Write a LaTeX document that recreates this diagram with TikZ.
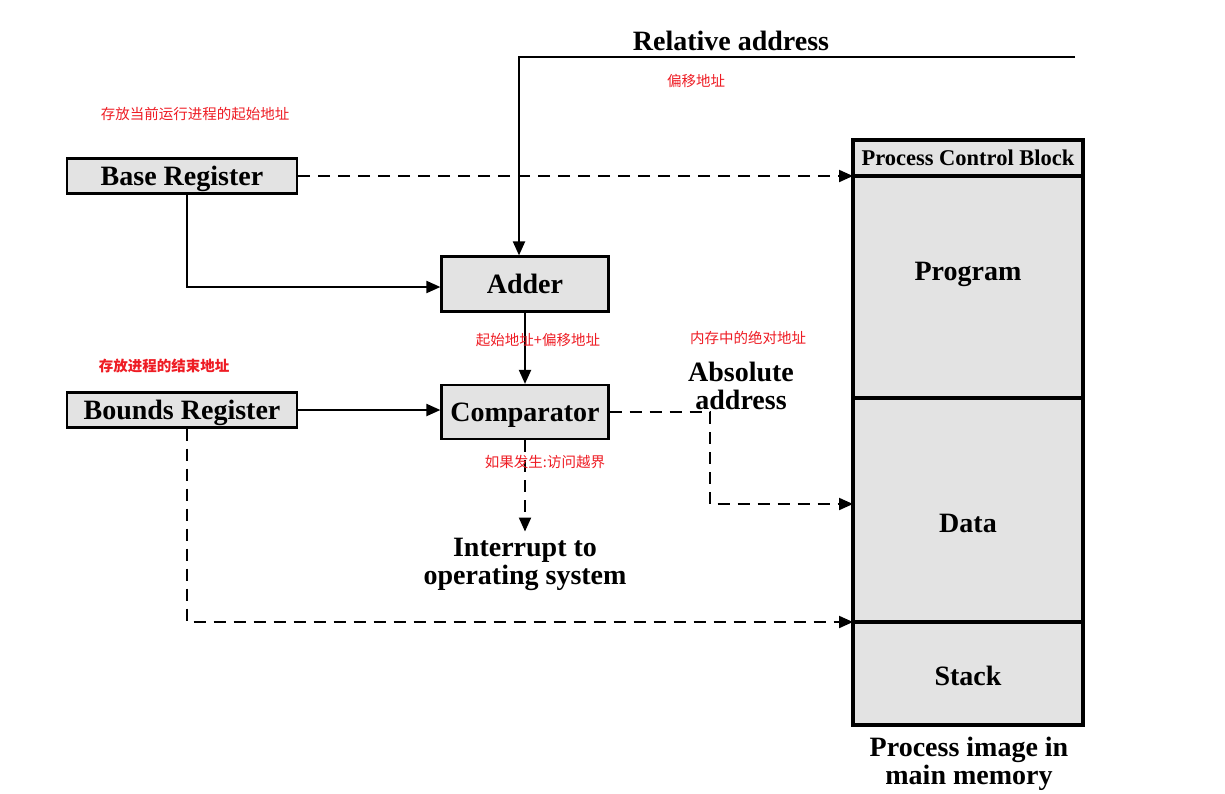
\documentclass[tikz,border=0pt]{standalone}
\usepackage{fontspec}
\setmainfont{Liberation Serif}
\newfontfamily\cjk{Noto Sans CJK SC}
\usetikzlibrary{arrows.meta}
\definecolor{boxgray}{RGB}{227,227,227}
\definecolor{notered}{RGB}{238,28,36}

\tikzset{
  reg/.style={draw, line width=2.2pt, fill=boxgray, minimum height=35pt, inner sep=0pt,
    text height=19pt, text depth=0pt, font=\bfseries\fontsize{28}{28}\selectfont},
  mem/.style={draw, line width=3.5pt, fill=boxgray, minimum width=230pt, inner sep=0pt,
    outer sep=0pt, anchor=north west},
  txt/.style={font=\bfseries\fontsize{28}{28}\selectfont, align=center, inner sep=0pt},
  note/.style={text=notered, inner sep=0pt, font=\cjk\fontsize{14.5}{14.5}\selectfont},
  conn/.style={line width=2pt, -{Triangle[length=14pt,width=12pt]}},
  dconn/.style={conn, dash pattern=on 12pt off 8pt}
}

\begin{document}
\begin{tikzpicture}[x=1pt,y=-1pt]
    \useasboundingbox (0,0) rectangle (1225,793);

    \node[reg, minimum width=230pt] (base) at (182,176) {Base Register};
    \node[reg, minimum width=230pt] (bounds) at (182,410) {Bounds Register};
    \node[reg, minimum width=167pt, minimum height=55pt] (adder) at (525,284) {Adder};
    \node[reg, minimum width=167pt, minimum height=54pt] (comp) at (525,412) {Comparator};

    \node[mem, minimum height=36pt, font=\bfseries\fontsize{22.5}{22.5}\selectfont] (pcb) at (853,140) {Process Control Block};
    \node[mem, minimum height=222pt, label={[txt,yshift=13pt]center:Program}] (program) at (pcb.south west) {};
    \node[mem, minimum height=224pt, label={[txt,yshift=-13pt]center:Data}] (data) at (program.south west) {};
    \node[mem, minimum height=103pt, label={[txt,yshift=-2pt]center:Stack}] (stack) at (data.south west) {};
    \node[txt] (image) at (969,764) {Process image in\\main memory};

    \coordinate (relend) at (1075,57);
    \node[txt] (reltxt) at (731,41) {Relative address};
    \node[txt] (abstxt) at (741,386) {Absolute\\address};
    \node[txt] (intr) at (525,564) {Interrupt to\\operating system};

    \draw[conn] (relend) -| ([xshift=-6pt]adder.north);
    \draw[conn] ([xshift=5pt]base.south) |- ([yshift=-3pt]adder.west);
    \draw[dconn] (base.east) -- (base.east -| pcb.west);
    \draw[conn] (adder) -- (comp);
    \draw[conn] (bounds.east) -- (bounds.east -| comp.west);
    \draw[dconn] (comp.east) -- ++(100,0) |- ([yshift=6pt]data.west);
    \draw[dconn, shorten >=6pt] (comp) -- (intr);
    \draw[dconn] ([xshift=5pt]bounds.south) |- (stack.north west);

    \node[note] (n1) at (195,114) {存放当前运行进程的起始地址};
    \node[note] (n2) at (696,81) {偏移地址};
    \node[note] (n3) at (538,340) {起始地址+偏移地址};
    \node[note, font=\cjk\bfseries\fontsize{14.5}{14.5}\selectfont] (n4) at (164,366) {存放进程的结束地址};
    \node[note] (n5) at (545,462) {如果发生:访问越界};
    \node[note] (n6) at (748,338) {内存中的绝对地址};
\end{tikzpicture}
\end{document}
